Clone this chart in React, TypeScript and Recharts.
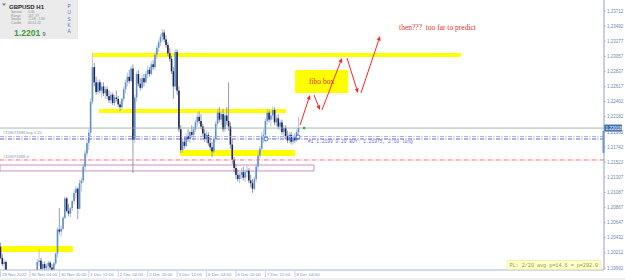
import React from 'react';
import {
  ComposedChart,
  Bar,
  XAxis,
  YAxis,
  ReferenceArea,
  ReferenceLine,
  ReferenceDot,
} from 'recharts';

// GBPUSD H1, 29 Nov 2022 12:00 -> 8 Dec 2022 06:00.
// all values in pips above 1.2000
const openPips = [
  30, 14, 5, 8, -8, -15, -25, -30, -40, -50, -45, -55, -48, -35, -28, -20, -14, -18, -12, -9,
  -5, 8, 10, -2, 5, -1, 2, 7, 0, -4, 6, 20, 55, 52, 56, 72, 100, 82, 78, 86,
  96, 108, 114, 85, 122, 126, 146, 165, 180, 195, 240, 290, 268, 254, 268, 256, 262, 252, 258, 248,
  242, 250, 238, 246, 244, 236, 232, 244, 258, 268, 276, 270, 288, 185, 246, 280, 266, 260, 274, 268,
  280, 286, 280, 294, 290, 308, 318, 326, 334, 340, 330, 322, 310, 302, 284, 262, 312, 256, 200, 170,
  182, 176, 190, 186, 196, 192, 200, 210, 218, 212, 204, 194, 186, 192, 180, 174, 168, 186, 208, 224,
  214, 222, 200, 220, 212, 204, 178, 156, 144, 134, 128, 134, 138, 130, 138, 140, 126, 122, 114, 128,
  146, 162, 172, 190, 192, 212, 224, 214, 220, 228, 210, 216, 204, 210, 196, 202, 190, 184, 192, 182,
  188, 184, 196,
];
const highPips = [
  36, 20, 12, 10, -4, -8, -15, -20, -30, -38, -35, -40, -30, -22, -15, -8, -6, -8, -5, -4,
  12, 27, 14, 8, 9, 6, 10, 9, 5, 8, 22, 58, 86, 60, 74, 103, 102, 92, 88, 98,
  112, 118, 116, 127, 130, 150, 170, 185, 200, 245, 311, 296, 276, 272, 272, 268, 268, 262, 262, 256,
  254, 253, 250, 256, 248, 240, 246, 262, 272, 282, 286, 292, 294, 250, 284, 286, 274, 278, 280, 284,
  292, 290, 298, 300, 312, 322, 330, 338, 345, 344, 336, 326, 318, 306, 290, 316, 316, 262, 206, 186,
  190, 194, 200, 198, 206, 204, 214, 224, 226, 222, 208, 200, 198, 196, 188, 182, 190, 212, 230, 232,
  226, 230, 224, 232, 268, 210, 186, 160, 150, 142, 138, 144, 146, 142, 148, 144, 134, 128, 132, 150,
  168, 176, 196, 200, 216, 230, 228, 226, 233, 232, 220, 222, 214, 214, 206, 206, 198, 196, 196, 192,
  194, 200, 218,
];
const lowPips = [
  12, 2, -5, -10, -20, -30, -38, -45, -55, -62, -60, -70, -55, -45, -38, -32, -28, -26, -20, -14,
  -8, 2, -6, -8, -4, -10, -3, -5, -12, -6, 3, 15, 48, 45, 54, 70, 80, 74, 72, 82,
  92, 100, 70, 84, 110, 122, 140, 160, 170, 190, 236, 262, 250, 250, 252, 246, 248, 244, 244, 238,
  236, 235, 234, 240, 232, 226, 228, 240, 252, 262, 266, 268, 137, 180, 240, 262, 256, 258, 262, 266,
  274, 276, 278, 286, 286, 302, 312, 320, 328, 326, 318, 306, 298, 280, 244, 258, 250, 196, 166, 166,
  172, 174, 182, 180, 188, 184, 196, 204, 208, 200, 190, 182, 180, 176, 170, 160, 165, 182, 204, 210,
  206, 196, 196, 206, 198, 172, 150, 138, 128, 124, 122, 128, 126, 124, 130, 122, 116, 108, 112, 124,
  140, 156, 168, 180, 186, 206, 210, 204, 214, 206, 204, 200, 198, 192, 190, 186, 180, 180, 178, 178,
  180, 182, 192,
];
const closePips = [
  14, 5, 8, -8, -15, -25, -30, -40, -50, -45, -55, -48, -35, -28, -20, -14, -18, -12, -9, -5,
  8, 10, -2, 5, -1, 2, 7, 0, -4, 6, 20, 55, 52, 56, 72, 100, 82, 78, 86, 96,
  108, 114, 85, 122, 126, 146, 165, 180, 195, 240, 290, 268, 254, 268, 256, 262, 252, 258, 248, 242,
  250, 238, 246, 244, 236, 232, 244, 258, 268, 276, 270, 288, 185, 246, 280, 266, 260, 274, 268, 280,
  286, 280, 294, 290, 308, 318, 326, 334, 340, 330, 322, 310, 302, 284, 262, 312, 256, 200, 170, 182,
  176, 190, 186, 196, 192, 200, 210, 218, 212, 204, 194, 186, 192, 180, 174, 168, 186, 208, 224, 214,
  222, 200, 220, 212, 204, 178, 156, 144, 134, 128, 134, 138, 130, 138, 140, 126, 122, 114, 128, 146,
  162, 172, 190, 192, 212, 224, 214, 220, 228, 210, 216, 204, 210, 196, 202, 190, 184, 192, 182, 188,
  184, 196, 202,
];

const timeTicks = [0, 16, 32, 48, 64, 80, 96, 112, 128, 144, 160];
const timeLabels = [
  '29 Nov 2022', '30 Nov 04:00', '30 Nov 20:00', '1 Dec 12:00', '2 Dec 04:00', '2 Dec 20:00',
  '5 Dec 12:00', '6 Dec 04:00', '6 Dec 20:00', '7 Dec 12:00', '8 Dec 04:00',
];
const priceTicks = [
  1.23712, 1.23492, 1.23277, 1.23057, 1.22837, 1.22617, 1.22402, 1.22182, 1.21962,
  1.21742, 1.21522, 1.21307, 1.21087, 1.20867, 1.20647, 1.20432, 1.20212, 1.19992,
];

const bidPrice = 1.22018;
const orderPrice = 1.21896;
const orderPrice2 = 1.2186;
const stopPrice = 1.21556;

// yellow zones drawn on the chart: [fromBar, toBar, top, bottom]
const zones = [
  [50.3, 250.3, 1.23104, 1.23046],
  [53.5, 155.2, 1.22294, 1.22236],
  [97.6, 160.1, 1.217, 1.21614],
  [-0.3, 39.4, 1.20311, 1.20224],
];
// hand-drawn forecast arrows: [fromBar, fromPrice, toBar, toPrice]
const arrows = [
  [162.8, 1.22062, 168.2, 1.22496],
  [170.4, 1.22496, 173.6, 1.22279],
  [174.7, 1.22279, 185.6, 1.23032],
  [188.3, 1.23032, 194.3, 1.22525],
  [195.9, 1.22525, 206.3, 1.2335],
];

const toPrice = (p: number) => 1.2 + p / 10000;

const bars = openPips.map((o, i) => ({
  i,
  open: toPrice(o),
  high: toPrice(highPips[i]),
  low: toPrice(lowPips[i]),
  close: toPrice(closePips[i]),
  range: [toPrice(lowPips[i]), toPrice(highPips[i])],
}));

const axisFont = 'Liberation Sans, Arial, sans-serif';

const Candle = (props: any) => {
  const { x, y, width, height, payload } = props;
  if (!payload || height == null) return null;
  const top = Math.min(y, y + height);
  const bottom = Math.max(y, y + height);
  const { open, close, high, low } = payload;
  const span = high - low;
  if (!(span > 0)) return null;
  const k = (bottom - top) / span;
  const py = (v: number) => top + (high - v) * k;
  const cx = x + width / 2;
  const up = close >= open;
  const bTop = py(Math.max(open, close));
  const bH = Math.max(0.8, Math.abs(py(open) - py(close)));
  return (
    <g>
      <line x1={cx} x2={cx} y1={top} y2={bottom} stroke={up ? '#a9b6d8' : '#7b80a8'} strokeWidth={0.8} />
      <rect x={cx - 0.8} y={bTop} width={1.6} height={bH} fill={up ? '#5a92cb' : '#1f2452'} />
    </g>
  );
};

const Arrow = (props: any) => {
  const { x1, y1, x2, y2 } = props;
  const a = Math.atan2(y2 - y1, x2 - x1);
  const len = 4.5;
  const half = 2;
  const bx = x2 - len * Math.cos(a);
  const by = y2 - len * Math.sin(a);
  const pts = `${x2},${y2} ${bx + half * Math.sin(a)},${by - half * Math.cos(a)} ${bx - half * Math.sin(a)},${by + half * Math.cos(a)}`;
  return (
    <g>
      <line x1={x1} y1={y1} x2={bx} y2={by} stroke="#ff2424" strokeWidth={1} />
      <polygon points={pts} fill="#ff2424" />
    </g>
  );
};

const PriceTick = (props: any) => {
  const { x, y, payload } = props;
  return (
    <g>
      <line x1={x} x2={x + 2} y1={y} y2={y} stroke="#8da3c6" strokeWidth={0.6} />
      <text x={x + 3} y={y + 1.6} fontSize={4.5} fill="#7088ad" fontFamily={axisFont}>
        {Number(payload.value).toFixed(5)}
      </text>
    </g>
  );
};

const TimeTick = (props: any) => {
  const { x, y, payload } = props;
  const label = timeLabels[timeTicks.indexOf(payload.value)];
  return (
    <g>
      <line x1={x} x2={x} y1={y + 1} y2={y + 7} stroke="#a4b4d0" strokeWidth={0.6} />
      <text x={x + 1.5} y={y + 6.3} fontSize={4.3} fill="#7f95bb" fontFamily={axisFont}>
        {label}
      </text>
    </g>
  );
};

const lineTag = (text: string) => (props: any) => {
  const vb = props.viewBox || {};
  return (
    <text x={(vb.x || 0) + 3} y={(vb.y || 0) - 2} fontSize={4} fill="#8a98b8" fontFamily={axisFont}>
      {text}
    </text>
  );
};

const BidTag = (props: any) => {
  const vb = props.viewBox || {};
  const right = (vb.x || 0) + (vb.width || 0);
  const y = vb.y || 0;
  return (
    <g>
      <rect x={right} y={y - 3.5} width={18} height={7} fill="#3c6fb4" />
      <text x={right + 1.5} y={y + 1.6} fontSize={4.5} fill="#ffffff" fontFamily={axisFont}>
        {bidPrice.toFixed(5)}
      </text>
    </g>
  );
};

const dashDot = '4 1.5 1 1.5';

export default function App() {
  return (
    <div style={{ position: 'absolute', left: 0, top: 0, width: 625, height: 280, background: '#ffffff', overflow: 'hidden' }}>
      <ComposedChart width={625} height={280} data={bars} margin={{ top: 0, right: 0, bottom: 0, left: 0 }}>
        <XAxis
          dataKey="i"
          type="number"
          domain={[-0.3, 328]}
          allowDataOverflow
          ticks={timeTicks}
          interval={0}
          height={10}
          tickSize={0}
          tickMargin={0}
          tickLine={false}
          axisLine={{ stroke: '#a9b9d4' }}
          tick={<TimeTick />}
        />
        <YAxis
          orientation="right"
          type="number"
          domain={[1.19964, 1.23871]}
          allowDataOverflow
          ticks={priceTicks}
          interval={0}
          width={21}
          tickSize={0}
          tickMargin={0}
          tickLine={false}
          axisLine={{ stroke: '#8da3c6' }}
          tick={<PriceTick />}
        />

        {zones.map((z, k) => (
          <ReferenceArea key={'z' + k} x1={z[0]} x2={z[1]} y1={z[2]} y2={z[3]} fill="#ffff00" fillOpacity={1} stroke="none" ifOverflow="visible" zIndex={50} />
        ))}
        <ReferenceArea x1={-0.3} x2={170.4} y1={1.21483} y2={1.21397} fill="none" stroke="#c98fc9" strokeWidth={1} ifOverflow="visible" zIndex={50} />

        <Bar dataKey="range" barSize={2} shape={<Candle />} isAnimationActive={false} zIndex={300} />

        <ReferenceLine y={bidPrice} stroke="#93a893" strokeWidth={0.8} ifOverflow="visible" label={<BidTag />} zIndex={400} />
        <ReferenceLine y={orderPrice} stroke="#acacf2" strokeWidth={1} strokeDasharray={dashDot} label={lineTag('#158073488 buy 0.20')} zIndex={400} />
        <ReferenceLine y={orderPrice2} stroke="#6262e4" strokeWidth={1} strokeDasharray={dashDot} zIndex={400} />
        <ReferenceLine y={stopPrice} stroke="#ff6c6c" strokeWidth={1} strokeDasharray={dashDot} label={lineTag('#158073488 sl')} zIndex={400} />
        <ReferenceLine
          segment={[{ x: 144.3, y: 1.2186 }, { x: 161.7, y: 1.21889 }]}
          stroke="#9aa8f0"
          strokeWidth={0.8}
          strokeDasharray="1 1"
          zIndex={400}
        />
        {arrows.map((a, k) => (
          <ReferenceLine key={'a' + k} segment={[{ x: a[0], y: a[1] }, { x: a[2], y: a[3] }]} shape={<Arrow />} zIndex={450} />
        ))}

        <ReferenceArea
          x1={160.1}
          x2={188.9}
          y1={1.22858}
          y2={1.22525}
          fill="#ffff00"
          fillOpacity={1}
          stroke="none"
          zIndex={420}
          label={{ value: 'fibo box', fill: '#e8302a', fontSize: 7.5, fontFamily: 'Liberation Serif, serif' }}
        />
        <ReferenceDot
          x={237.5}
          y={1.2348}
          r={0}
          fill="none"
          stroke="none"
          zIndex={600}
          label={{ value: 'then???\u00a0 too far to predict', fill: '#e8302a', fontSize: 7.5, fontFamily: 'Liberation Serif, serif', position: 'center' }}
        />
        <ReferenceDot x={144.3} y={1.2186} r={2} fill="#ffffff" stroke="#2a56e0" strokeWidth={0.9} zIndex={600} />
        <ReferenceDot x={161.7} y={1.21889} r={2} fill="#ffffff" stroke="#2a56e0" strokeWidth={0.9} zIndex={600} />
        <ReferenceDot x={165} y={bidPrice} r={1.4} fill="#22b84a" stroke="none" zIndex={600} />
      </ComposedChart>

      <svg width={625} height={280} style={{ position: 'absolute', left: 0, top: 0, pointerEvents: 'none' }}>
        <rect x={0} y={0} width={78} height={39} fill="#ebebeb" />
        <polygon points="2,3.5 6,3.5 4,6" fill="#6f7f9f" />
        <text x={9} y={8.5} fontSize={6} fontWeight="bold" fontFamily={axisFont} fill="#1e1e1e">GBPUSD  H1</text>
        {[
          ['Spread', '0.00'],
          ['Range', '147, 37'],
          ['Swaps', '-1.08, -2.60'],
          ['Candle', '00:01:22'],
        ].map((r, k) => (
          <g key={r[0]}>
            <text x={11} y={12.8 + k * 3.7} fontSize={3.3} fill="#8c8c8c" fontFamily={axisFont}>{r[0]}</text>
            <text x={28} y={12.8 + k * 3.7} fontSize={3.3} fill="#8c8c8c" fontFamily={axisFont}>{r[1]}</text>
          </g>
        ))}
        <text x={14} y={36} fontSize={8.6} fontWeight="bold" fontFamily={axisFont} fill="#3d9a3d">1.2201</text>
        <text x={42.5} y={36} fontSize={5.5} fontFamily={axisFont} fill="#444444">9</text>
        {['P', 'U', 'S', 'K', 'A'].map((c, k) => (
          <text key={k} x={67.5} y={8 + k * 6.3} fontSize={4.6} fill="#4d6fd2" fontFamily={axisFont}>{c}</text>
        ))}

        <text x={308} y={143} fontSize={4.6} fill="#7c6cdc" fontFamily="Liberation Mono, monospace">
          #1 1.2199 0.20 BUY: 1.21975, 2:10 long
        </text>

        <rect x={602.5} y={131} width={2} height={22} fill="#6f98c8" />

        <rect x={507} y={260.5} width={94} height={9} fill="#ffffc8" stroke="#e8e8a8" strokeWidth={0.6} />
        <text x={509.5} y={267} fontSize={5.1} fill="#8c9a5c" fontFamily="Liberation Mono, monospace">
          PL: 2/20 avg p=14.6 = p=292.0
        </text>
        <rect x={0} y={278} width={625} height={2} fill="#efefef" />
      </svg>
    </div>
  );
}
